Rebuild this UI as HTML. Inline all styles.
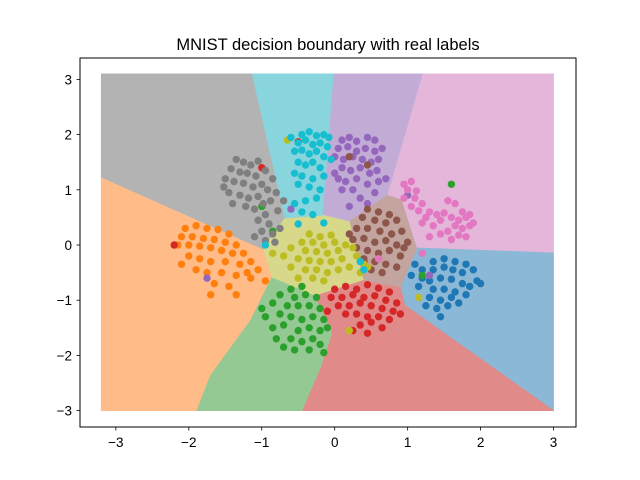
<!DOCTYPE html>
<html><head><meta charset="utf-8"><style>
body{margin:0;background:#fff;}
svg{display:block;font-family:"Liberation Sans","DejaVu Sans",sans-serif;}
</style></head><body>
<svg id="chart" width="640" height="480" viewBox="0 0 640 480" xmlns="http://www.w3.org/2000/svg">
<rect width="640" height="480" fill="#fff"/>
<text x="328" y="50" text-anchor="middle" font-size="16.5" fill="#000">MNIST decision boundary with real labels</text>
<g id="regions"></g>
<g id="points"></g>
<rect x="80" y="58" width="496" height="369" fill="none" stroke="#000" stroke-width="1"/>
<g id="xticks"></g>
<g id="yticks"></g>
</svg>
<script>
const colors = ["#1f77b4","#ff7f0e","#2ca02c","#d62728","#9467bd","#8c564b","#e377c2","#7f7f7f","#bcbd22","#17becf"];
const regionColors = ["#8ab8d6","#ffbb88","#94c994","#e08a8a","#c2acd6","#c3a49e","#e4b6da","#b3b3b3","#d8d88a","#88d5de"];
const classNames = ["blue-0","orange-1","green-2","red-3","purple-4","brown-5","pink-6","gray-7","olive-8","cyan-9"];
const xTicks = [-3,-2,-1,0,1,2,3];
const yTicks = [-3,-2,-1,0,1,2,3];
const regionBlue = [[0.9,-0.76],[1.13,-0.04],[3.0,-0.13],[3.0,-3.0],[0.96,-1.09]];
const regionOrange = [[-3.2,1.23],[-0.97,-0.08],[-0.95,-0.22],[-0.86,-0.58],[-1.15,-1.36],[-1.7,-2.36],[-1.89,-3.0],[-3.2,-3.0]];
const regionGreen = [[-0.86,-0.58],[-0.27,-0.91],[-0.03,-1.6],[-0.18,-2.2],[-0.44,-3.0],[-1.89,-3.0],[-1.7,-2.36],[-1.15,-1.36]];
const regionRed = [[-0.27,-0.91],[0.39,-0.63],[0.9,-0.76],[0.96,-1.09],[3.0,-3.0],[-0.44,-3.0],[-0.18,-2.2],[-0.03,-1.6]];
const regionPurple = [[-0.02,3.1],[1.21,3.1],[0.73,0.91],[0.2,0.42],[-0.17,0.54]];
const regionBrown = [[0.2,0.42],[0.73,0.91],[0.92,0.83],[1.13,-0.04],[0.9,-0.76],[0.39,-0.63]];
const regionPink = [[1.21,3.1],[3.0,3.1],[3.0,-0.13],[1.13,-0.04],[0.92,0.83],[0.73,0.91]];
const regionGray = [[-3.2,3.1],[-1.13,3.1],[-0.68,0.49],[-0.9,0.08],[-0.97,-0.08],[-3.2,1.23]];
const regionOlive = [[-0.68,0.49],[-0.17,0.54],[0.2,0.42],[0.39,-0.63],[-0.27,-0.91],[-0.86,-0.58],[-0.95,-0.22],[-0.97,-0.08],[-0.9,0.08]];
const regionCyan = [[-1.13,3.1],[-0.02,3.1],[-0.17,0.54],[-0.68,0.49]];
const regions = [regionBlue,regionOrange,regionGreen,regionRed,regionPurple,regionBrown,regionPink,regionGray,regionOlive,regionCyan];

const pts0 = [[1.35,-0.3],[1.5,-0.25],[1.65,-0.3],[1.8,-0.35],[1.2,-0.45],[1.35,-0.45],[1.5,-0.4],[1.62,-0.45],[1.75,-0.5],[1.9,-0.45],[1.05,-0.55],[1.2,-0.6],[1.3,-0.65],[1.45,-0.6],[1.6,-0.62],[1.75,-0.7],[1.95,-0.65],[1.15,-0.75],[1.35,-0.8],[1.5,-0.8],[1.65,-0.85],[1.85,-0.75],[2.0,-0.7],[1.3,-0.95],[1.45,-1.0],[1.6,-0.95],[1.8,-0.9],[1.4,-1.15],[1.55,-1.1],[1.25,-1.1],[1.7,-1.05],[1.45,-1.3],[1.1,-0.35]];
const pts1 = [[-2.05,0.3],[-1.9,0.35],[-1.75,0.3],[-1.6,0.28],[-1.45,0.2],[-2.1,0.15],[-1.95,0.15],[-1.8,0.12],[-1.65,0.1],[-1.5,0.05],[-1.35,0.0],[-2.15,0.0],[-2.0,0.0],[-1.85,-0.02],[-1.7,-0.05],[-1.55,-0.1],[-1.4,-0.15],[-1.25,-0.15],[-2.0,-0.2],[-1.85,-0.25],[-1.7,-0.3],[-1.5,-0.3],[-1.3,-0.35],[-1.15,-0.3],[-1.05,-0.45],[-1.9,-0.45],[-1.75,-0.5],[-1.55,-0.5],[-1.35,-0.55],[-1.15,-0.6],[-1.65,-0.7],[-1.45,-0.75],[-1.2,-0.5],[-1.35,-0.9],[-0.95,-0.65],[-1.7,-0.9],[-2.1,-0.35]];
const pts2 = [[-0.6,-0.8],[-0.45,-0.75],[-0.75,-0.9],[-0.55,-0.95],[-0.4,-0.9],[-0.25,-0.95],[-0.85,-1.05],[-0.65,-1.1],[-0.5,-1.1],[-0.35,-1.1],[-0.2,-1.15],[-0.95,-1.3],[-0.75,-1.25],[-0.6,-1.3],[-0.45,-1.35],[-0.3,-1.3],[-0.15,-1.35],[-0.85,-1.5],[-0.7,-1.45],[-0.5,-1.55],[-0.35,-1.5],[-0.2,-1.55],[-0.1,-1.5],[-0.8,-1.7],[-0.6,-1.7],[-0.45,-1.75],[-0.3,-1.7],[-0.2,-1.8],[-0.55,-1.9],[-0.35,-1.9],[-0.15,-1.95],[-1.0,-1.15],[-0.7,-1.85],[-1.0,0.7],[-0.85,0.25],[1.2,-0.55],[1.6,1.1]];
const pts3 = [[0.0,-0.8],[0.15,-0.75],[0.3,-0.8],[0.45,-0.72],[0.6,-0.78],[0.75,-0.85],[-0.05,-0.95],[0.1,-0.95],[0.25,-0.9],[0.4,-0.95],[0.55,-0.92],[0.7,-1.0],[0.85,-1.05],[0.05,-1.1],[0.2,-1.1],[0.35,-1.05],[0.5,-1.1],[0.65,-1.15],[0.8,-1.2],[0.15,-1.25],[0.3,-1.25],[0.45,-1.3],[0.6,-1.3],[0.75,-1.35],[0.9,-1.25],[0.35,-1.45],[0.5,-1.4],[0.65,-1.5],[0.25,-1.55],[0.45,-1.6],[-0.1,-1.2],[-0.5,1.87],[-1.0,1.4],[-2.2,0.0],[0.6,-0.25],[0.4,-0.3]];
const pts4 = [[0.1,1.9],[0.2,1.95],[0.3,1.88],[0.45,1.95],[0.55,1.9],[0.05,1.75],[0.18,1.78],[0.3,1.7],[0.42,1.75],[0.55,1.7],[0.65,1.75],[0.0,1.6],[0.12,1.55],[0.25,1.6],[0.38,1.55],[0.5,1.5],[0.6,1.55],[0.1,1.4],[0.22,1.35],[0.35,1.4],[0.48,1.3],[0.58,1.35],[0.05,1.2],[0.15,1.15],[0.3,1.2],[0.45,1.1],[0.6,1.15],[0.1,1.0],[0.25,1.0],[0.55,0.95],[0.35,0.85],[0.45,0.75],[0.2,0.7],[0.7,1.2],[0.0,1.3],[-0.6,0.65],[-1.75,-0.6],[1.0,0.9],[1.3,-0.55]];
const pts5 = [[0.45,0.65],[0.6,0.6],[0.75,0.55],[0.38,0.5],[0.55,0.45],[0.7,0.4],[0.85,0.45],[0.3,0.3],[0.45,0.3],[0.62,0.25],[0.78,0.2],[0.92,0.25],[0.25,0.1],[0.4,0.12],[0.55,0.05],[0.7,0.08],[0.85,0.0],[1.0,0.05],[0.3,-0.05],[0.45,-0.1],[0.6,-0.15],[0.75,-0.1],[0.9,-0.2],[0.4,-0.25],[0.55,-0.3],[0.7,-0.35],[0.85,-0.4],[0.5,-0.45],[0.65,-0.5],[0.2,0.2],[0.95,-0.05],[0.2,1.6],[0.45,1.45]];
const pts6 = [[0.95,1.1],[1.05,1.15],[1.0,1.0],[1.12,0.98],[0.95,0.85],[1.1,0.85],[1.2,0.75],[1.05,0.7],[1.15,0.62],[1.3,0.6],[1.25,0.5],[1.4,0.55],[1.5,0.58],[1.45,0.45],[1.2,0.4],[1.35,0.35],[1.55,0.8],[1.65,0.75],[1.75,0.6],[1.6,0.5],[1.7,0.45],[1.8,0.5],[1.65,0.35],[1.75,0.3],[1.85,0.35],[1.55,0.25],[1.7,0.18],[1.8,0.15],[1.9,0.4],[1.6,0.1],[1.45,0.2],[1.3,0.15],[1.85,0.55],[0.6,-0.25],[1.2,-0.15]];
const pts7 = [[-1.35,1.55],[-1.25,1.5],[-1.15,1.45],[-1.05,1.52],[-1.42,1.38],[-1.3,1.32],[-1.2,1.3],[-1.08,1.25],[-0.95,1.35],[-0.85,1.2],[-1.5,1.2],[-1.38,1.15],[-1.25,1.12],[-1.12,1.05],[-1.0,1.1],[-0.92,1.0],[-0.8,0.95],[-1.45,0.95],[-1.3,0.9],[-1.18,0.85],[-1.05,0.88],[-0.98,0.75],[-0.88,0.8],[-1.4,0.75],[-1.22,0.7],[-1.1,0.65],[-0.95,0.55],[-0.78,0.62],[-1.05,0.45],[-0.9,0.38],[-1.0,0.25],[-0.85,0.2],[-0.75,0.3],[-1.1,0.15],[-0.95,0.08],[-0.82,0.05],[-1.52,1.05],[-0.7,0.8]];
const pts8 = [[-0.35,0.2],[-0.2,0.15],[-0.05,0.18],[-0.45,0.05],[-0.3,0.05],[-0.15,0.0],[0.0,0.05],[0.15,0.0],[-0.6,-0.05],[-0.4,-0.1],[-0.25,-0.12],[-0.1,-0.15],[0.05,-0.1],[0.25,-0.05],[-0.7,-0.2],[-0.5,-0.25],[-0.35,-0.28],[-0.2,-0.3],[-0.05,-0.3],[0.1,-0.25],[0.3,-0.2],[-0.6,-0.4],[-0.4,-0.45],[-0.25,-0.45],[-0.1,-0.5],[0.05,-0.45],[0.2,-0.4],[-0.5,-0.6],[-0.3,-0.6],[0.35,-0.5],[-0.85,-0.15],[0.4,-0.35],[-0.15,-0.65],[-0.65,1.9],[-0.3,1.5],[0.2,-1.55],[1.15,-0.95],[0.45,-0.4]];
const pts9 = [[-0.45,2.0],[-0.35,2.05],[-0.25,1.98],[-0.15,2.0],[-0.5,1.85],[-0.4,1.9],[-0.3,1.82],[-0.2,1.85],[-0.1,1.78],[-0.55,1.7],[-0.45,1.72],[-0.35,1.65],[-0.25,1.7],[-0.15,1.6],[-0.05,1.55],[-0.5,1.5],[-0.4,1.45],[-0.3,1.5],[-0.2,1.4],[-0.55,1.3],[-0.45,1.25],[-0.3,1.2],[-0.15,1.25],[-0.5,1.1],[-0.35,1.05],[-0.2,1.0],[-0.25,0.85],[-0.4,0.8],[-0.55,0.75],[-0.45,0.6],[-0.3,0.55],[-0.15,0.4],[-0.5,0.38],[-0.6,1.95],[-0.08,1.95],[-0.95,0.0],[0.35,-0.3],[0.4,-0.45]];
const points = [pts0,pts1,pts2,pts3,pts4,pts5,pts6,pts7,pts8,pts9];

const X = v => 334.7 + 72.95 * v;
const Y = v => 245 - 55.2 * v;
const NS = "http://www.w3.org/2000/svg";
const gR = document.getElementById("regions");
regions.forEach((poly, i) => {
  const p = document.createElementNS(NS, "polygon");
  p.setAttribute("points", poly.map(q => X(q[0]).toFixed(1) + "," + Y(q[1]).toFixed(1)).join(" "));
  p.setAttribute("fill", regionColors[i]);
  p.setAttribute("stroke", regionColors[i]);
  p.setAttribute("stroke-width", "0.8");
  p.setAttribute("stroke-linejoin", "round");
  
  
  gR.appendChild(p);
});
const gP = document.getElementById("points");
points.forEach((arr, i) => {
  arr.forEach(q => {
    const c = document.createElementNS(NS, "circle");
    c.setAttribute("cx", X(q[0]).toFixed(1));
    c.setAttribute("cy", Y(q[1]).toFixed(1));
    c.setAttribute("r", "3.7");
    c.setAttribute("fill", colors[i]);
    
    
    gP.appendChild(c);
  });
});
const gX = document.getElementById("xticks");
xTicks.forEach(t => {
  const x = X(t);
  const l = document.createElementNS(NS, "line");
  l.setAttribute("x1", x); l.setAttribute("x2", x); l.setAttribute("y1", 427); l.setAttribute("y2", 430.5);
  l.setAttribute("stroke", "#000"); l.setAttribute("stroke-width", "0.8");
  
  
  gX.appendChild(l);
  const tx = document.createElementNS(NS, "text");
  tx.setAttribute("x", x); tx.setAttribute("y", 447); tx.setAttribute("text-anchor", "middle"); tx.setAttribute("font-size", "13.5");
  tx.textContent = t < 0 ? "\u2212" + Math.abs(t) : String(t);
  
  
  gX.appendChild(tx);
});
const gY = document.getElementById("yticks");
yTicks.forEach(t => {
  const y = Y(t);
  const l = document.createElementNS(NS, "line");
  l.setAttribute("x1", 76.5); l.setAttribute("x2", 80); l.setAttribute("y1", y); l.setAttribute("y2", y);
  l.setAttribute("stroke", "#000"); l.setAttribute("stroke-width", "0.8");
  
  
  gY.appendChild(l);
  const tx = document.createElementNS(NS, "text");
  tx.setAttribute("x", 72); tx.setAttribute("y", y + 5); tx.setAttribute("text-anchor", "end"); tx.setAttribute("font-size", "13.5");
  tx.textContent = t < 0 ? "\u2212" + Math.abs(t) : String(t);
  
  
  gY.appendChild(tx);
});
</script>
</body></html>
